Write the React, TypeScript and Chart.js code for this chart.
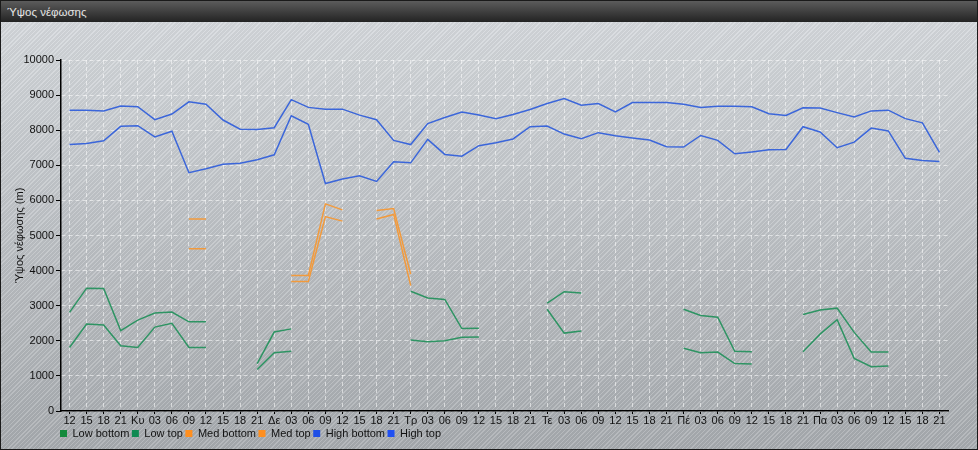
import React, { useEffect, useRef } from 'react';
import { Chart, registerables } from 'chart.js';
Chart.register(...registerables);

const labels = ['12','15','18','21','Κυ','03','06','09','12','15','18','21','Δε','03','06','09','12','15','18','21','Τρ','03','06','09','12','15','18','21','Τε','03','06','09','12','15','18','21','Πέ','03','06','09','12','15','18','21','Πα','03','06','09','12','15','18','21'];

const N = null;
const lowBottom = [1810,2480,2450,1860,1810,2390,2500,1810,1810,N,N,1180,1660,1700,N,N,N,N,N,N,2020,1970,2000,2100,2110,N,N,N,2900,2220,2280,N,N,N,N,N,1790,1660,1680,1350,1340,N,N,1690,2190,2600,1500,1260,1280,N,N,N];
const lowTop = [2810,3500,3490,2290,2590,2790,2820,2540,2540,N,N,1350,2250,2340,N,N,N,N,N,N,3410,3220,3180,2350,2360,N,N,N,3070,3400,3360,N,N,N,N,N,2900,2720,2670,1700,1690,N,N,2750,2880,2930,2240,1680,1680,N,N,N];
const medBottom = [N,N,N,N,N,N,N,4620,4620,N,N,N,N,3690,3690,5540,5410,N,5470,5600,3570,N,N,N,N,N,N,N,N,N,N,N,N,N,N,N,N,N,N,N,N,N,N,N,N,N,N,N,N,N,N,N];
const medTop = [N,N,N,N,N,N,N,5470,5470,N,N,N,N,3860,3860,5900,5730,N,5710,5770,3900,N,N,N,N,N,N,N,N,N,N,N,N,N,N,N,N,N,N,N,N,N,N,N,N,N,N,N,N,N,N,N];
const highBottom = [7590,7620,7700,8110,8130,7810,7970,6790,6900,7030,7060,7160,7300,8410,8170,6480,6610,6700,6540,7100,7070,7740,7310,7260,7560,7640,7750,8100,8120,7890,7760,7930,7840,7780,7720,7530,7520,7850,7710,7330,7380,7440,7450,8100,7950,7500,7660,8060,7980,7200,7140,7110];
const highTop = [8570,8570,8550,8690,8670,8300,8460,8810,8740,8290,8030,8020,8070,8870,8650,8600,8600,8430,8300,7710,7590,8190,8360,8520,8430,8330,8450,8590,8760,8900,8710,8760,8520,8790,8790,8790,8740,8650,8680,8680,8670,8470,8420,8640,8630,8500,8380,8550,8570,8330,8210,7370];

const seriesNames = ['Low bottom','Low top','Med bottom','Med top','High bottom','High top'];
const yTicksMax = 10000;
const yStep = 1000;

const LOW = '#2e9463';
const MED = '#f29a3c';
const HIGH = '#3b66da';
const FONT = '"Liberation Sans", Arial, sans-serif';

export default function App() {
  const ref = useRef<HTMLCanvasElement>(null);
  useEffect(() => {
    document.body.style.margin = '0';
    const mk = (label: string, data: (number | null)[], line: string, box: string) => ({
      label, data, borderColor: line, backgroundColor: box, borderWidth: 1.5,
      pointRadius: 0, pointHoverRadius: 0, spanGaps: false, tension: 0, fill: false,
    });
    const LP = 2.5;
    const shiftLegend = {
      id: 'shiftLegend',
      afterLayout(chart: any) {
        const lg = chart.legend;
        if (lg) { const d = 59 - (lg.left + LP); lg.left += d; lg.right += d; }
      },
    };
    const chart = new Chart(ref.current!, {
      type: 'line',
      data: {
        labels,
        datasets: [
          mk(seriesNames[0], lowBottom, LOW, '#138a3c'),
          mk(seriesNames[1], lowTop, LOW, '#0f8a52'),
          mk(seriesNames[2], medBottom, MED, '#ff8f1f'),
          mk(seriesNames[3], medTop, MED, '#ff8f1f'),
          mk(seriesNames[4], highBottom, HIGH, '#1f4fe6'),
          mk(seriesNames[5], highTop, HIGH, '#2050f2'),
        ],
      },
      options: {
        responsive: false,
        animation: false,
        devicePixelRatio: 1,
        layout: { padding: { top: 38, right: 29, left: 0, bottom: 0 } },
        font: { family: FONT, size: 11 },
        plugins: {
          tooltip: { enabled: false },
          legend: {
            position: 'bottom',
            align: 'start',
            labels: {
              boxWidth: 7, boxHeight: 7, padding: LP, color: '#111',
              font: { family: FONT, size: 11 },
              generateLabels: (c: any) => {
                const items = Chart.defaults.plugins.legend.labels.generateLabels(c);
                return items.map((it: any) => ({ ...it, lineWidth: 0, strokeStyle: 'rgba(0,0,0,0)' }));
              },
            },
          },
        },
        scales: {
          x: {
            offset: true,
            afterFit: (s: any) => { s.height = 14.5; },
            grid: {
              offset: false, color: 'rgba(255,255,255,0.55)', tickColor: '#000', tickLength: 3,
              tickBorderDash: [], lineWidth: 1,
            },
            border: { color: '#000', width: 1.5, dash: [4, 3] },
            ticks: {
              autoSkip: false, maxRotation: 0, minRotation: 0, padding: 0, color: '#111',
              font: { family: FONT, size: 11 },
            },
          },
          y: {
            min: 0, max: yTicksMax,
            afterFit: (s: any) => { s.width = 60; },
            grid: { color: 'rgba(255,255,255,0.55)', tickColor: '#000', tickLength: 5, tickBorderDash: [] },
            border: { color: '#000', width: 1.5, dash: [4, 3] },
            ticks: {
              stepSize: yStep, padding: 2, color: '#111',
              font: { family: FONT, size: 11 },
              callback: (v: any) => String(v),
            },
            title: {
              display: true, text: 'Ύψος νέφωσης (m)', color: '#111', padding: { top: 12, bottom: 0 },
              font: { family: FONT, size: 11 },
            },
          },
        },
      },
      plugins: [shiftLegend],
    } as any);
    return () => chart.destroy();
  }, []);

  const stripes = 'repeating-linear-gradient(135deg, rgba(255,255,255,0.16) 0px, rgba(255,255,255,0.16) 1px, rgba(0,0,0,0.035) 1px, rgba(0,0,0,0.035) 3px)';
  return (
    <div style={{ width: 978, height: 450, boxSizing: 'border-box', border: '1px solid #1a1a1a', overflow: 'hidden', fontFamily: FONT }}>
      <div style={{ height: 21, background: 'linear-gradient(#5c5c5c, #232323)', color: '#e6e6e6', fontSize: 11.5, lineHeight: '22px', paddingLeft: 6, whiteSpace: 'nowrap' }}>Ύψος νέφωσης</div>
      <div style={{ width: 976, height: 427, background: `${stripes}, linear-gradient(#d4d8dc, #a7abaf)` }}>
        <canvas ref={ref} width={976} height={427} style={{ display: 'block' }} />
      </div>
    </div>
  );
}
